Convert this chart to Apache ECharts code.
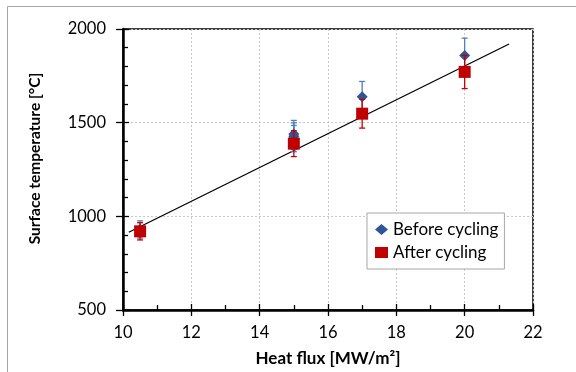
<!DOCTYPE html>
<html>
<head>
<meta charset="utf-8">
<script src="https://cdn.jsdelivr.net/npm/echarts@6/dist/echarts.min.js"></script>
<style>
  html, body { margin: 0; padding: 0; background: #fff; }
  #chart { width: 576px; height: 372px; }
</style>
</head>
<body>
<div id="chart"></div>
<script>
// values
const beforeX = [10.5, 15, 15, 15, 17, 20];
const beforeY = [930, 1415, 1428, 1440, 1638, 1858];
const beforeErr = [46, 70, 71, 72, 82, 93];

const afterX = [10.5, 15, 17, 20];
const afterY = [920, 1388, 1548, 1771];
const afterErr = [46, 69, 77, 89];

const fitX = [10.17, 21.3];
const fitY = [915, 1920];

const xTicks = [10, 12, 14, 16, 18, 20, 22];
const yTicks = [500, 1000, 1500, 2000];

const font = 'Lato, "Open Sans", sans-serif';

const chart = echarts.init(document.getElementById('chart'));

function errBars(xs, ys, errs) {
  return xs.map((x, i) => [x, ys[i] - errs[i], ys[i] + errs[i]]);
}

function errRender(color) {
  return function (params, api) {
    const lo = api.coord([api.value(0), api.value(1)]);
    const hi = api.coord([api.value(0), api.value(2)]);
    const w = 3;
    const style = { stroke: color, lineWidth: 1.3 };
    return {
      type: 'group',
      children: [
        { type: 'line', shape: { x1: lo[0], y1: lo[1], x2: hi[0], y2: hi[1] }, style },
        { type: 'line', shape: { x1: lo[0] - w, y1: lo[1], x2: lo[0] + w, y2: lo[1] }, style },
        { type: 'line', shape: { x1: hi[0] - w, y1: hi[1], x2: hi[0] + w, y2: hi[1] }, style }
      ]
    };
  };
}

// inner (minor) tick axes drawn on top of the labelled ones
const innerTicks = {
  axisLine: { show: false },
  axisLabel: { show: false },
  splitLine: { show: false },
  axisTick: { show: true, inside: true, length: 6, lineStyle: { color: '#000', width: 1.3 } },
  minorTick: { show: true, length: 5, lineStyle: { color: '#000', width: 1.3 } }
};

const option = {
  animation: false,
  backgroundColor: '#fff',
  graphic: [{
    type: 'rect',
    shape: { x: 7.5, y: 6.5, width: 620, height: 400 },
    style: { fill: 'none', stroke: '#a6a6a6', lineWidth: 1 },
    silent: true
  }],
  grid: {
    left: 123, right: 43, top: 29, bottom: 61,
    show: true, borderColor: '#000', borderWidth: 1.5
  },
  legend: {
    orient: 'vertical',
    left: 367, top: 213,
    padding: [8, 6, 8, 8],
    itemGap: 6,
    itemWidth: 13, itemHeight: 11,
    borderColor: '#a6a6a6', borderWidth: 1,
    backgroundColor: '#fff',
    textStyle: { fontFamily: font, fontSize: 17, color: '#000' },
    data: [
      { name: 'Before cycling', icon: 'diamond', itemStyle: { color: '#2F5597' } },
      { name: 'After cycling', icon: 'rect', itemStyle: { color: '#C00000' } }
    ]
  },
  xAxis: [{
    type: 'value',
    min: xTicks[0], max: xTicks[xTicks.length - 1], interval: 2,
    name: 'Heat flux [MW/m²]',
    nameLocation: 'middle', nameGap: 40,
    nameTextStyle: { fontFamily: font, fontSize: 17, fontWeight: 'bold', color: '#000' },
    axisLine: { onZero: false, lineStyle: { color: '#000', width: 2.5 } },
    axisTick: { show: true, length: 6, lineStyle: { color: '#000', width: 1.3 } },
    axisLabel: { fontFamily: font, fontSize: 16.5, color: '#000', margin: 14 },
    splitLine: { show: true, lineStyle: { color: '#c8c8c8', type: [2, 2], width: 1 } }
  }, Object.assign({
    type: 'value', position: 'bottom',
    min: xTicks[0], max: xTicks[xTicks.length - 1], interval: 2,
    minorTick: Object.assign({}, innerTicks.minorTick, { splitNumber: 2 })
  }, innerTicks, { minorTick: Object.assign({}, innerTicks.minorTick, { splitNumber: 2 }) })],
  yAxis: [{
    type: 'value',
    min: yTicks[0], max: yTicks[yTicks.length - 1], interval: 500,
    name: 'Surface temperature [°C]',
    nameLocation: 'middle', nameGap: 80, nameRotate: 90,
    nameTextStyle: { fontFamily: font, fontSize: 15.5, fontWeight: 'bold', color: '#000', padding: [0, 0, 0, 22] },
    axisLine: { onZero: false, lineStyle: { color: '#000', width: 2.5 } },
    axisTick: { show: true, length: 7, lineStyle: { color: '#000', width: 1.3 } },
    axisLabel: { fontFamily: font, fontSize: 16.5, color: '#000', margin: 17, formatter: v => String(v) },
    splitLine: { show: true, lineStyle: { color: '#c8c8c8', type: [2, 2], width: 1 } }
  }, Object.assign({
    type: 'value', position: 'left',
    min: yTicks[0], max: yTicks[yTicks.length - 1], interval: 500
  }, innerTicks, { minorTick: Object.assign({}, innerTicks.minorTick, { splitNumber: 5 }) })],
  series: [
    {
      name: 'fit',
      type: 'line',
      data: fitX.map((x, i) => [x, fitY[i]]),
      symbol: 'none',
      lineStyle: { color: '#000', width: 1.3 },
      z: 3
    },
    {
      name: 'beforeErr',
      type: 'custom',
      renderItem: errRender('#4F81BD'),
      data: errBars(beforeX, beforeY, beforeErr),
      encode: { x: 0, y: [1, 2] },
      z: 4
    },
    {
      name: 'Before cycling',
      type: 'scatter',
      data: beforeX.map((x, i) => [x, beforeY[i]]),
      symbol: 'diamond',
      symbolSize: 11,
      itemStyle: { color: '#2F5597', opacity: 1 },
      z: 5
    },
    {
      name: 'afterErr',
      type: 'custom',
      renderItem: errRender('#C00000'),
      data: errBars(afterX, afterY, afterErr),
      encode: { x: 0, y: [1, 2] },
      z: 6
    },
    {
      name: 'After cycling',
      type: 'scatter',
      data: afterX.map((x, i) => [x, afterY[i]]),
      symbol: 'rect',
      symbolSize: 12,
      itemStyle: { color: '#C00000', opacity: 1 },
      z: 7
    }
  ]
};

chart.setOption(option);
</script>
</body>
</html>
